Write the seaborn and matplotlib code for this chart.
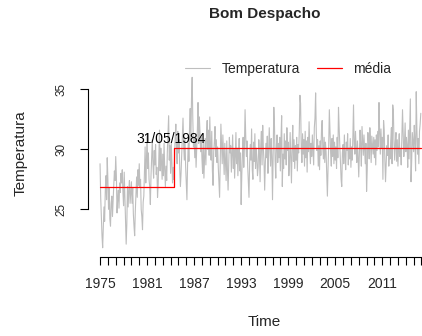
import numpy as np
import pandas as pd
import matplotlib
matplotlib.use("Agg")
import matplotlib.pyplot as plt
import seaborn as sns

# Monthly temperature series, Bom Despacho, Jan 1975 - Dec 2015
temp_1975_1984 = [
    28.8, 26.0, 24.5, 22.8, 21.8, 23.5, 25.2, 24.0, 26.5, 27.8, 25.8, 29.3,  # 1975
    27.5, 25.0, 26.8, 24.2, 23.6, 25.5, 26.1, 24.4, 25.8, 27.0, 28.2, 27.4,  # 1976
    29.4, 27.8, 24.7, 25.9, 26.6, 25.1, 27.2, 26.4, 28.0, 27.2, 28.3, 26.5,  # 1977
    25.3, 28.1, 26.0, 24.2, 22.1, 23.8, 26.9, 25.2, 26.6, 27.4, 25.5, 26.4,  # 1978
    27.3, 25.5, 26.8, 24.6, 23.6, 22.8, 24.9, 26.2, 27.7, 26.0, 28.3, 27.0,  # 1979
    28.8, 26.9, 27.5, 25.0, 24.4, 23.3, 25.6, 26.1, 28.0, 30.2, 27.2, 29.0,  # 1980
    31.3, 28.4, 29.7, 27.5, 26.9, 25.4, 27.8, 29.2, 30.8, 28.8, 27.6, 29.9,  # 1981
    28.7, 30.4, 27.9, 28.5, 26.0, 27.1, 29.3, 31.6, 28.2, 30.1, 29.0, 27.5,  # 1982
    29.6, 27.8, 30.5, 28.3, 26.9, 28.6, 27.4, 29.8, 31.2, 32.8, 29.1, 30.3,  # 1983
    28.0, 30.6, 28.9, 27.2, 28.5, 27.5, 29.4, 31.0, 32.1, 30.2, 28.8, 31.5,  # 1984
]
temp_1985_1994 = [
    29.7, 30.8, 28.4, 26.9, 28.0, 29.5, 31.2, 32.6, 30.4, 29.1, 30.9, 28.6,  # 1985
    27.2, 25.8, 28.7, 30.5, 29.0, 31.8, 33.4, 30.7, 34.2, 36.0, 32.5, 30.2,  # 1986
    31.0, 29.3, 30.8, 28.5, 30.1, 31.7, 33.9, 30.5, 32.7, 31.4, 29.8, 31.0,  # 1987
    29.2, 28.0, 30.6, 27.6, 29.4, 30.9, 28.7, 31.3, 32.4, 30.0, 31.6, 29.5,  # 1988
    32.7, 30.3, 29.1, 31.5, 28.2, 27.0, 29.8, 30.6, 31.9, 29.4, 30.8, 28.9,  # 1989
    30.2, 28.5, 27.3, 26.0, 29.0, 32.1, 30.4, 28.8, 31.2, 29.6, 27.9, 30.5,  # 1990
    29.0, 27.4, 30.7, 28.3, 26.6, 28.9, 31.0, 29.7, 30.3, 28.1, 29.6, 31.2,  # 1991
    28.4, 30.0, 27.6, 29.3, 31.4, 28.8, 30.1, 27.8, 29.5, 30.9, 28.2, 29.7,  # 1992
    25.4, 27.9, 29.6, 31.0, 28.5, 30.2, 33.3, 31.1, 29.4, 30.7, 28.6, 27.3,  # 1993
    26.0, 28.9, 30.4, 29.1, 31.7, 28.3, 27.5, 30.6, 29.0, 31.3, 28.4, 30.1,  # 1994
]
temp_1995_2004 = [
    29.2, 27.8, 28.5, 30.8, 29.6, 27.3, 30.3, 31.5, 28.7, 32.0, 30.1, 29.0,  # 1995
    26.6, 28.8, 30.5, 29.3, 31.1, 28.0, 29.7, 31.8, 30.2, 28.6, 30.9, 29.4,  # 1996
    25.8, 29.7, 33.5, 32.0, 29.1, 27.6, 30.4, 31.2, 28.9, 30.5, 29.3, 31.0,  # 1997
    28.2, 30.9, 32.8, 26.9, 29.6, 28.4, 31.3, 29.2, 30.7, 28.7, 31.8, 29.9,  # 1998
    30.6, 27.8, 28.9, 31.4, 29.3, 27.2, 30.2, 32.0, 29.0, 30.8, 28.4, 30.3,  # 1999
    29.1, 31.0, 28.2, 30.4, 29.7, 31.6, 34.5, 33.8, 30.1, 28.9, 31.3, 29.6,  # 2000
    30.8, 28.6, 31.5, 29.3, 30.7, 28.1, 31.0, 29.8, 32.3, 30.2, 28.8, 30.5,  # 2001
    29.4, 31.2, 30.0, 28.7, 31.8, 32.6, 34.7, 31.4, 29.9, 30.8, 28.6, 30.3,  # 2002
    28.3, 30.7, 29.5, 31.6, 32.4, 30.1, 29.2, 31.0, 28.9, 30.6, 29.8, 27.8,  # 2003
    26.1, 28.4, 30.3, 33.3, 31.5, 29.7, 28.6, 30.9, 29.4, 31.2, 28.8, 30.6,  # 2004
]
temp_2005_2015 = [
    29.1, 30.2, 28.4, 31.0, 29.3, 33.5, 31.8, 30.4, 28.9, 27.5, 26.9, 29.7,  # 2005
    30.4, 28.8, 31.2, 29.5, 28.3, 30.6, 29.9, 31.3, 28.7, 30.1, 29.2, 30.9,  # 2006
    28.5, 30.2, 29.1, 31.0, 33.7, 30.4, 29.6, 31.5, 30.0, 28.9, 30.7, 29.4,  # 2007
    27.7, 29.8, 31.6, 30.3, 28.6, 31.9, 30.7, 29.5, 31.2, 30.0, 28.8, 30.5,  # 2008
    26.5, 28.3, 31.4, 30.6, 29.2, 31.8, 30.5, 28.9, 31.1, 30.4, 29.6, 31.0,  # 2009
    29.3, 30.8, 28.7, 31.2, 29.9, 31.5, 30.2, 33.9, 31.4, 29.6, 31.7, 30.1,  # 2010
    31.0, 27.5, 32.4, 31.6, 29.1, 27.3, 28.9, 30.3, 29.5, 31.2, 28.6, 30.0,  # 2011
    29.2, 30.7, 31.8, 28.8, 33.7, 33.2, 30.5, 29.1, 30.6, 31.4, 29.0, 30.8,  # 2012
    28.6, 30.2, 31.3, 29.4, 30.0, 28.7, 30.9, 33.3, 31.2, 29.4, 30.5, 32.2,  # 2013
    29.8, 31.0, 30.3, 28.5, 31.6, 29.2, 31.7, 34.2, 27.3, 29.0, 31.4, 30.6,  # 2014
    29.8, 32.0, 30.6, 28.2, 34.8, 31.7, 29.6, 30.9, 28.8, 31.5, 32.1, 33.0,  # 2015
]

start_year = 1975
break_label = "31/05/1984"
break_time = 1984.41          # change point (31/05/1984) in decimal years
mean_before = 26.83           # mean before the change point
mean_after = 30.13            # mean after the change point

x_tick_years = list(range(1975, 2017))
x_label_years = [1975, 1981, 1987, 1993, 1999, 2005, 2011]
y_ticks = [25, 30, 35]

temps = temp_1975_1984 + temp_1985_1994 + temp_1995_2004 + temp_2005_2015
times = start_year + np.arange(len(temps)) / 12.0
series = pd.DataFrame({"Time": times, "Temperatura": temps})

end_time = times[-1]
mean_df = pd.DataFrame({
    "Time": [start_year, break_time, end_time],
    "média": [mean_before, mean_after, mean_after],
})

sns.set_theme(style="white")
plt.rcParams["font.family"] = ["Liberation Sans", "DejaVu Sans"]

W, H = 422, 336
fig = plt.figure(figsize=(W / 100, H / 100), dpi=100)
ax = fig.add_axes([87.5 / W, (H - 257) / H, 346.5 / W, 188.1 / H])

sns.lineplot(data=series, x="Time", y="Temperatura", ax=ax, color="#BEBEBE",
             linewidth=0.8, label="Temperatura", estimator=None)
sns.lineplot(data=mean_df, x="Time", y="média", ax=ax, color="#FF0000",
             linewidth=0.9, drawstyle="steps-post", label="média", estimator=None)

ax.set_xlim(1973.4, 2017.6)
ax.set_ylim(21.03, 36.7)

for side in ("top", "right"):
    ax.spines[side].set_visible(False)
ax.spines["left"].set_bounds(y_ticks[0], y_ticks[-1])
ax.spines["bottom"].set_bounds(x_tick_years[0], x_tick_years[-1])
for side in ("left", "bottom"):
    ax.spines[side].set_color("black")
    ax.spines[side].set_linewidth(0.8)

ax.set_xticks(x_tick_years)
ax.set_xticklabels([str(y) if y in x_label_years else "" for y in x_tick_years])
ax.set_yticks(y_ticks)
ax.set_yticklabels([str(v) for v in y_ticks], rotation=90, va="center")
ax.tick_params(axis="both", which="both", direction="out", length=5.5,
               width=0.8, color="black", left=True, bottom=True)
ax.tick_params(axis="x", labelsize=10, pad=9)
ax.tick_params(axis="y", labelsize=8.5, pad=9)
ax.set_xlabel("")
ax.set_ylabel("")

ax.text(1984.0, 30.85, break_label, ha="center", va="center", fontsize=10,
        color="black")

fig.text(265 / W, 1 - 14 / H, "Bom Despacho", ha="center", va="center",
         fontsize=11, fontweight="bold")
fig.text(264 / W, 1 - 322 / H, "Time", ha="center", va="center", fontsize=11)
fig.text(20.7 / W, 1 - 153 / H, "Temperatura", ha="center", va="center",
         fontsize=11, rotation=90)

ax.legend(loc="center", bbox_to_anchor=(288 / W, 1 - 69 / H),
          bbox_transform=fig.transFigure, ncol=2, frameon=False, fontsize=10,
          handlelength=1.8, handletextpad=0.85, columnspacing=1.2)

fig.savefig("out.png", dpi=100)
